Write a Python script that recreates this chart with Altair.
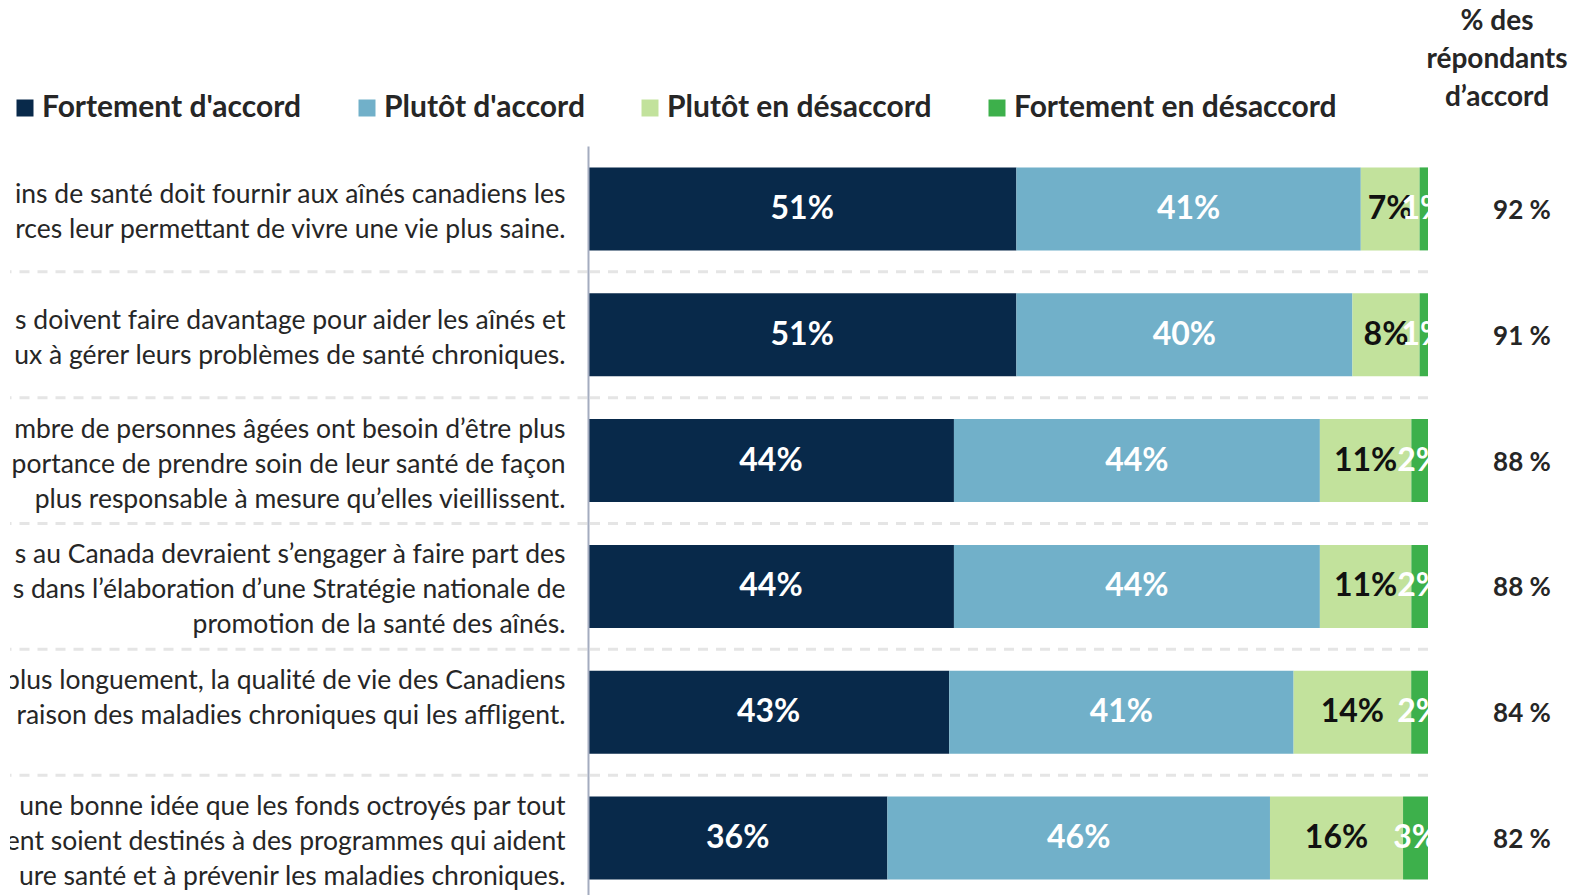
import altair as alt
import pandas as pd

# ---------------- data ----------------
row_ids = ["q1", "q2", "q3", "q4", "q5", "q6"]
label_lines = [
    ["ins de santé doit fournir aux aînés canadiens les",
     "rces leur permettant de vivre une vie plus saine."],
    ["s doivent faire davantage pour aider les aînés et",
     "ux à gérer leurs problèmes de santé chroniques."],
    ["mbre de personnes âgées ont besoin d’être plus",
     "portance de prendre soin de leur santé de façon",
     "plus responsable à mesure qu’elles vieillissent."],
    ["s au Canada devraient s’engager à faire part des",
     "s dans l’élaboration d’une Stratégie nationale de",
     "promotion de la santé des aînés."],
    ["plus longuement, la qualité de vie des Canadiens",
     "raison des maladies chroniques qui les affligent.",
     ""],
    ["une bonne idée que les fonds octroyés par tout",
     "ent soient destinés à des programmes qui aident",
     "ure santé et à prévenir les maladies chroniques."],
]
categories = ["Fortement d'accord", "Plutôt d'accord",
              "Plutôt en désaccord", "Fortement en désaccord"]
cat_colors = ["#08294A", "#71B0C9", "#C2E29C", "#3DB04B"]
fortement_accord = [51, 51, 44, 44, 43, 36]
plutot_accord = [41, 40, 44, 44, 41, 46]
plutot_desaccord = [7, 8, 11, 11, 14, 16]
fortement_desaccord = [1, 1, 2, 2, 2, 3]
agree_totals = [92, 91, 88, 88, 84, 82]
header_lines = ["% des", "répondants", "d’accord"]

series = [fortement_accord, plutot_accord, plutot_desaccord, fortement_desaccord]
records = []
for ci, (cat, vals) in enumerate(zip(categories, series)):
    for rid, v in zip(row_ids, vals):
        records.append({"row": rid, "cat": cat, "ord": ci, "value": v})
bars_df = pd.DataFrame(records)

line_records = []
for rid, lines in zip(row_ids, label_lines):
    for li, txt in enumerate(lines):
        line_records.append({"row": rid, "li": li, "n": len(lines), "txt": txt})
labels_df = pd.DataFrame(line_records)
totals_df = pd.DataFrame({"row": row_ids, "v": agree_totals})
bounds_df = pd.DataFrame({"row": row_ids[1:]})

FONT = "Lato"
TXT = "#262626"
H = 755
STEP = H / len(row_ids)
LINE_H = 35
yscale = alt.Scale(domain=row_ids, paddingInner=0, paddingOuter=0)
bar_axis = alt.Axis(labels=False, ticks=False, grid=False, title=None,
                    domainColor="#A4ACBF", domainWidth=2, zindex=1)

def dashed_rules(axis=None):
    return alt.Chart(bounds_df).mark_rule(
        strokeDash=[10, 8], color="#E5E5E5", strokeWidth=3
    ).encode(y=alt.Y("row:N", scale=yscale, bandPosition=0, axis=axis))

# ---------------- left labels panel ----------------
labels = alt.Chart(labels_df).transform_calculate(
    off=f"(datum.li - (datum.n - 1) / 2) * {LINE_H} + {STEP / 2}"
).mark_text(
    font=FONT, fontSize=26.5, align="right", baseline="middle",
    color=TXT, clip=True, dy=4
).encode(
    y=alt.Y("row:N", scale=yscale, axis=None),
    yOffset=alt.YOffset("off:Q", scale=None),
    x=alt.value(555.5),
    text="txt:N",
)
left = alt.layer(dashed_rules(), labels).properties(width=577.5, height=H)

# ---------------- bars panel ----------------
base = alt.Chart(bars_df).transform_stack(
    stack="value", groupby=["row"], as_=["v0", "v1"], offset="normalize",
    sort=[alt.SortField("ord", order="ascending")]
).transform_calculate(
    mid="(datum.v0 + datum.v1) / 2",
    label="datum.value + '%'"
)

bars = base.mark_bar(size=83).encode(
    y=alt.Y("row:N", scale=yscale, axis=bar_axis),
    x=alt.X("v0:Q", scale=alt.Scale(domain=[0, 1]), axis=None),
    x2="v1:Q",
    color=alt.Color("cat:N", scale=alt.Scale(domain=categories, range=cat_colors),
                    legend=alt.Legend(orient="none", legendX=0, legendY=-53,
                                      direction="horizontal", title=None,
                                      symbolType="square", symbolSize=289,
                                      symbolStrokeWidth=0, symbolOpacity=1,
                                      labelFont=FONT, labelFontSize=30,
                                      labelFontWeight="bold", labelColor=TXT,
                                      labelOffset=2, columnPadding=50,
                                      labelLimit=500, padding=0)),
)

bar_text = base.mark_text(
    font=FONT, fontSize=32, fontWeight="bold", baseline="middle", clip=True
).encode(
    y=alt.Y("row:N", scale=yscale, axis=bar_axis),
    x=alt.X("mid:Q", scale=alt.Scale(domain=[0, 1])),
    text="label:N",
    color=alt.condition("datum.cat == 'Plutôt en désaccord'",
                        alt.value("#111111"), alt.value("#FFFFFF")),
)

middle = alt.layer(dashed_rules(bar_axis), bars, bar_text).properties(width=840, height=H)

# ---------------- totals panel ----------------
totals = alt.Chart(totals_df).transform_calculate(
    lbl="datum.v + ' %'"
).mark_text(
    font=FONT, fontSize=26, fontWeight="bold", color=TXT, baseline="middle", dy=2
).encode(
    y=alt.Y("row:N", scale=yscale, axis=None),
    x=alt.value(94),
    text="lbl:N",
).properties(
    width=138, height=H,
    title=alt.TitleParams(header_lines, font=FONT, fontSize=28, fontWeight="bold",
                          color=TXT, lineHeight=38, anchor="middle", offset=34),
)

chart = alt.hconcat(left, middle, totals, spacing=0).properties(
    bounds="flush", padding=0
).configure(font=FONT).configure_view(stroke=None)

chart.save("out.html", embed_options={"renderer": "svg", "actions": False})
